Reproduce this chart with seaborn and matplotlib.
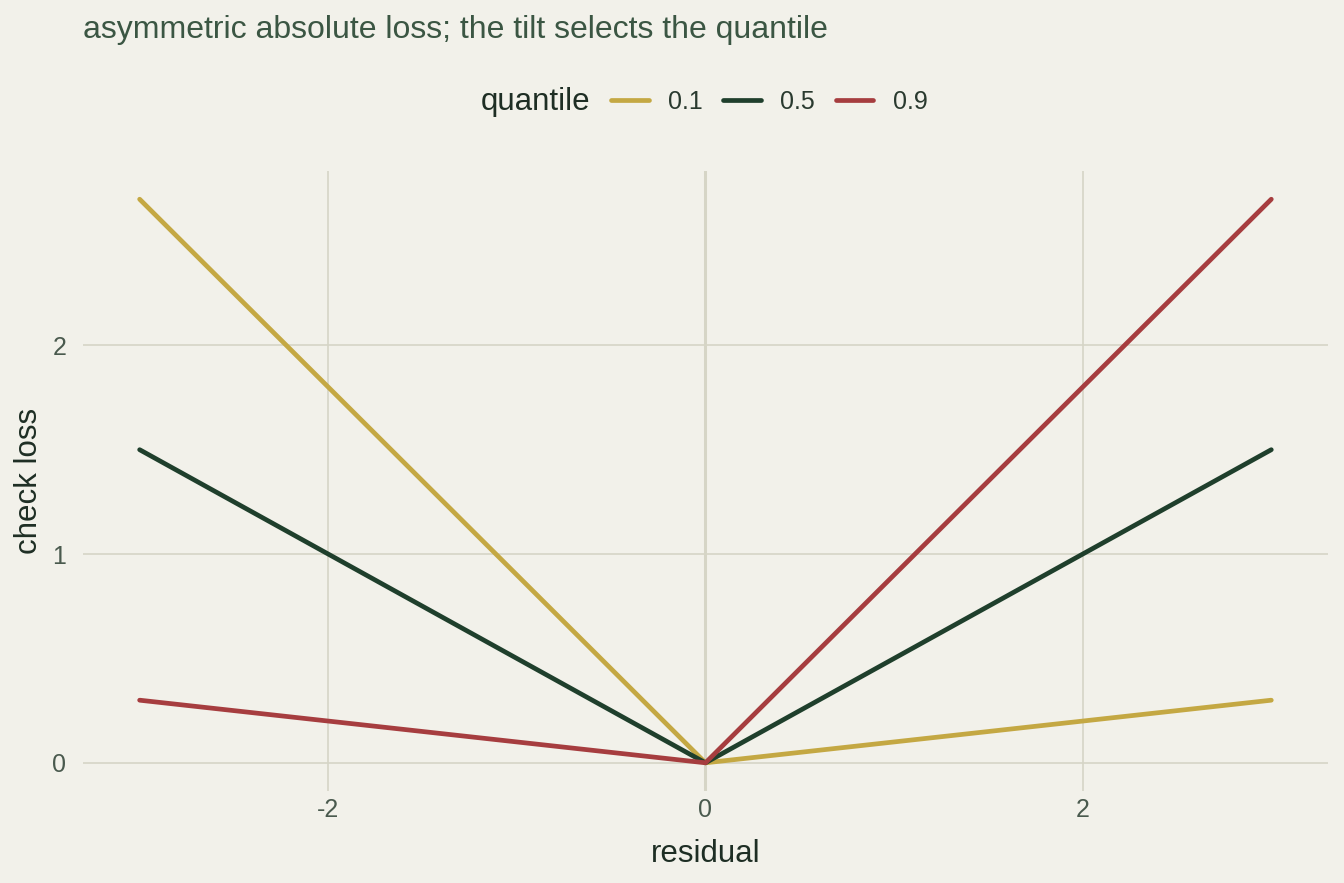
import matplotlib
matplotlib.use("Agg")
import matplotlib.pyplot as plt
from matplotlib.lines import Line2D
import numpy as np
import pandas as pd
import seaborn as sns

# data: check (pinball) loss at the end points and kink
residual = [-3.0, 0.0, 3.0]
loss_q01 = [2.7, 0.0, 0.3]
loss_q05 = [1.5, 0.0, 1.5]
loss_q09 = [0.3, 0.0, 2.7]
quantiles = ["0.1", "0.5", "0.9"]
palette = {"0.1": "#C4A843", "0.5": "#1F3F2C", "0.9": "#A63D3F"}

df = pd.DataFrame({
    "residual": residual * 3,
    "loss": loss_q01 + loss_q05 + loss_q09,
    "quantile": [q for q in quantiles for _ in residual],
})

bg = "#F2F1EA"
grid_col = "#D6D5C6"
sns.set_theme(style="white")
plt.rcParams["font.family"] = ["Liberation Sans", "DejaVu Sans"]

fig = plt.figure(figsize=(13.44, 8.83), dpi=100, facecolor=bg)
ax = fig.add_axes([0.0618, 0.1042, 0.9262, 0.7021])
ax.set_facecolor(bg)

ax.axvline(0, color=grid_col, lw=2.2, zorder=0)
sns.lineplot(data=df, x="residual", y="loss", hue="quantile", palette=palette,
             hue_order=quantiles, lw=3.4, ax=ax, legend=False, zorder=3)

ax.set_xlim(-3.3, 3.3)
ax.set_ylim(-0.135, 2.835)
ax.set_xticks([-2, 0, 2])
ax.set_yticks([0, 1, 2])
ax.set_xticklabels(["-2", "0", "2"])
ax.grid(True, color=grid_col, lw=1.2)
ax.set_axisbelow(True)
for s in ax.spines.values():
    s.set_visible(False)
ax.tick_params(length=0, labelsize=18, labelcolor="#4A5A4E")
ax.tick_params(axis="x", pad=5)
ax.tick_params(axis="y", pad=12)
ax.set_xlabel("residual", fontsize=22.5, color="#1E2E24", labelpad=12)
ax.set_ylabel("check loss", fontsize=22.5, color="#1E2E24", labelpad=6)

fig.text(0.0618, 1 - 30 / 883, "asymmetric absolute loss; the tilt selects the quantile",
         fontsize=23, color="#3B5643", va="center", ha="left")

# legend: title on the left, keys in one row
fig.text(590 / 1344, 1 - 102 / 883, "quantile", fontsize=22.5, color="#1E2E24",
         ha="right", va="center")
handles = [Line2D([], [], color=palette[q], lw=3.4) for q in quantiles]
leg = fig.legend(handles, quantiles, ncol=3, loc="center left",
                 bbox_to_anchor=(611 / 1344, 1 - 102 / 883),
                 frameon=False, borderpad=0, borderaxespad=0,
                 handlelength=1.5, handletextpad=0.78, columnspacing=0.82,
                 fontsize=18)
for t in leg.get_texts():
    t.set_color("#2A3A2F")

fig.savefig("out.png", dpi=100, facecolor=bg)
